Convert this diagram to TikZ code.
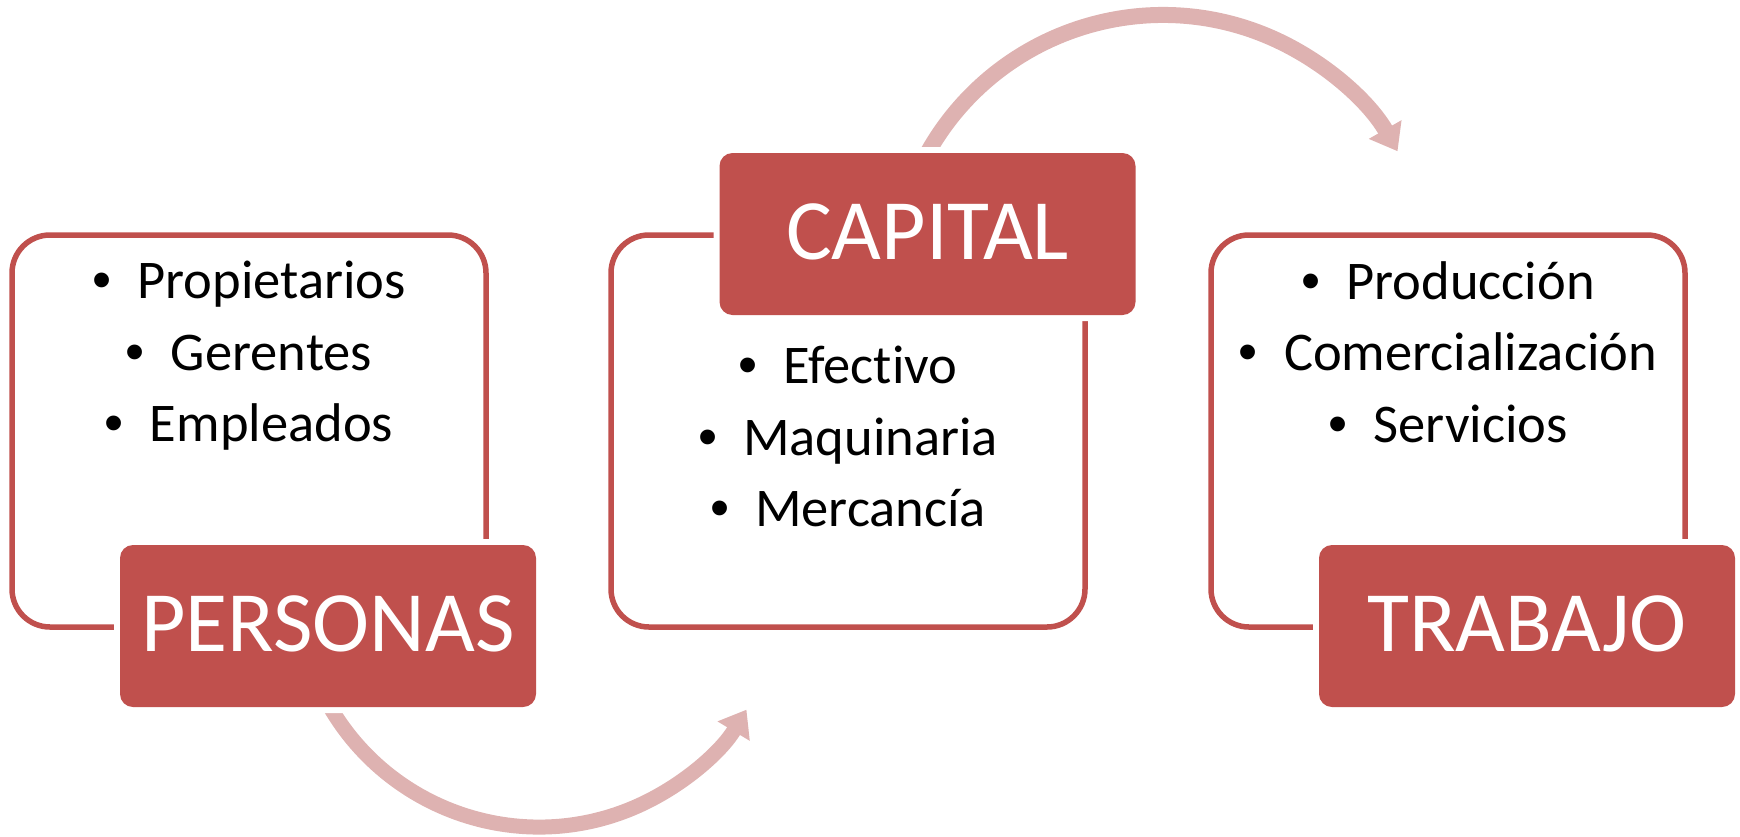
\documentclass[tikz,border=0pt]{standalone}
\usepackage{fontspec}
\setmainfont{Carlito}[Ligatures=NoCommon]
\newfontfamily\bulfont{Liberation Sans}
\usetikzlibrary{arrows.meta}
\definecolor{accred}{RGB}{192,80,77}
\definecolor{arrowpink}{RGB}{222,178,177}
\tikzset{
  outline/.style={draw=accred, line width=5.5pt, rounded corners=38pt,
    minimum width=474pt, minimum height=392pt, inner sep=0pt},
  lbl/.style={fill=accred, rounded corners=13pt, minimum width=416pt,
    minimum height=162pt, inner sep=0pt, text=white,
    font=\fontsize{86pt}{86pt}\selectfont, text height=50pt, text depth=0pt,
    preaction={draw=white, line width=12pt}},
  item/.style={anchor=base, inner sep=0pt, font=\fontsize{54.5pt}{71.5pt}\selectfont},
  cyc/.style={draw=arrowpink, line width=15pt, -{Triangle[length=25pt, width=36pt]}}
}
\newcommand{\bulitem}{{\bulfont •}\hspace{26pt}}
\begin{document}
\begin{tikzpicture}[x=1pt, y=-1pt]
\useasboundingbox (0,0) rectangle (1740,836);
% outline boxes
\node[outline] (b1) at (249,431) {};
\node[outline] (b2) at (848,431) {};
\node[outline] (b3) at (1448,431) {};
% circular arrows
\coordinate (a1s) at (319.7,687.3);
\draw[cyc] (a1s) arc[start angle=155, end angle=31, radius=242];
\coordinate (a2s) at (918.3,170.9);
\draw[cyc, line width=16pt] (a2s) arc[start angle=205, end angle=330.3, radius=270];
% labels
\node[lbl] (personas) at (328,626) {PERSONAS};
\node[lbl] (capital) at (927.5,234) {CAPITAL};
\node[lbl] (trabajo) at (1527,626) {TRABAJO};
% items
\node[item] (i11) at (249,298) {\bulitem Propietarios};
\node[item] (i12) at (249,370) {\bulitem Gerentes};
\node[item] (i13) at (249,441) {\bulitem Empleados};
\node[item] (i21) at (848,383) {\bulitem Efectivo};
\node[item] (i22) at (848,455) {\bulitem Maquinaria};
\node[item] (i23) at (848,526) {\bulitem Mercancía};
\node[item] (i31) at (1448,299) {\bulitem Producción};
\node[item] (i32) at (1448,370) {\bulitem Comercialización};
\node[item] (i33) at (1448,442) {\bulitem Servicios};
\end{tikzpicture}
\end{document}
